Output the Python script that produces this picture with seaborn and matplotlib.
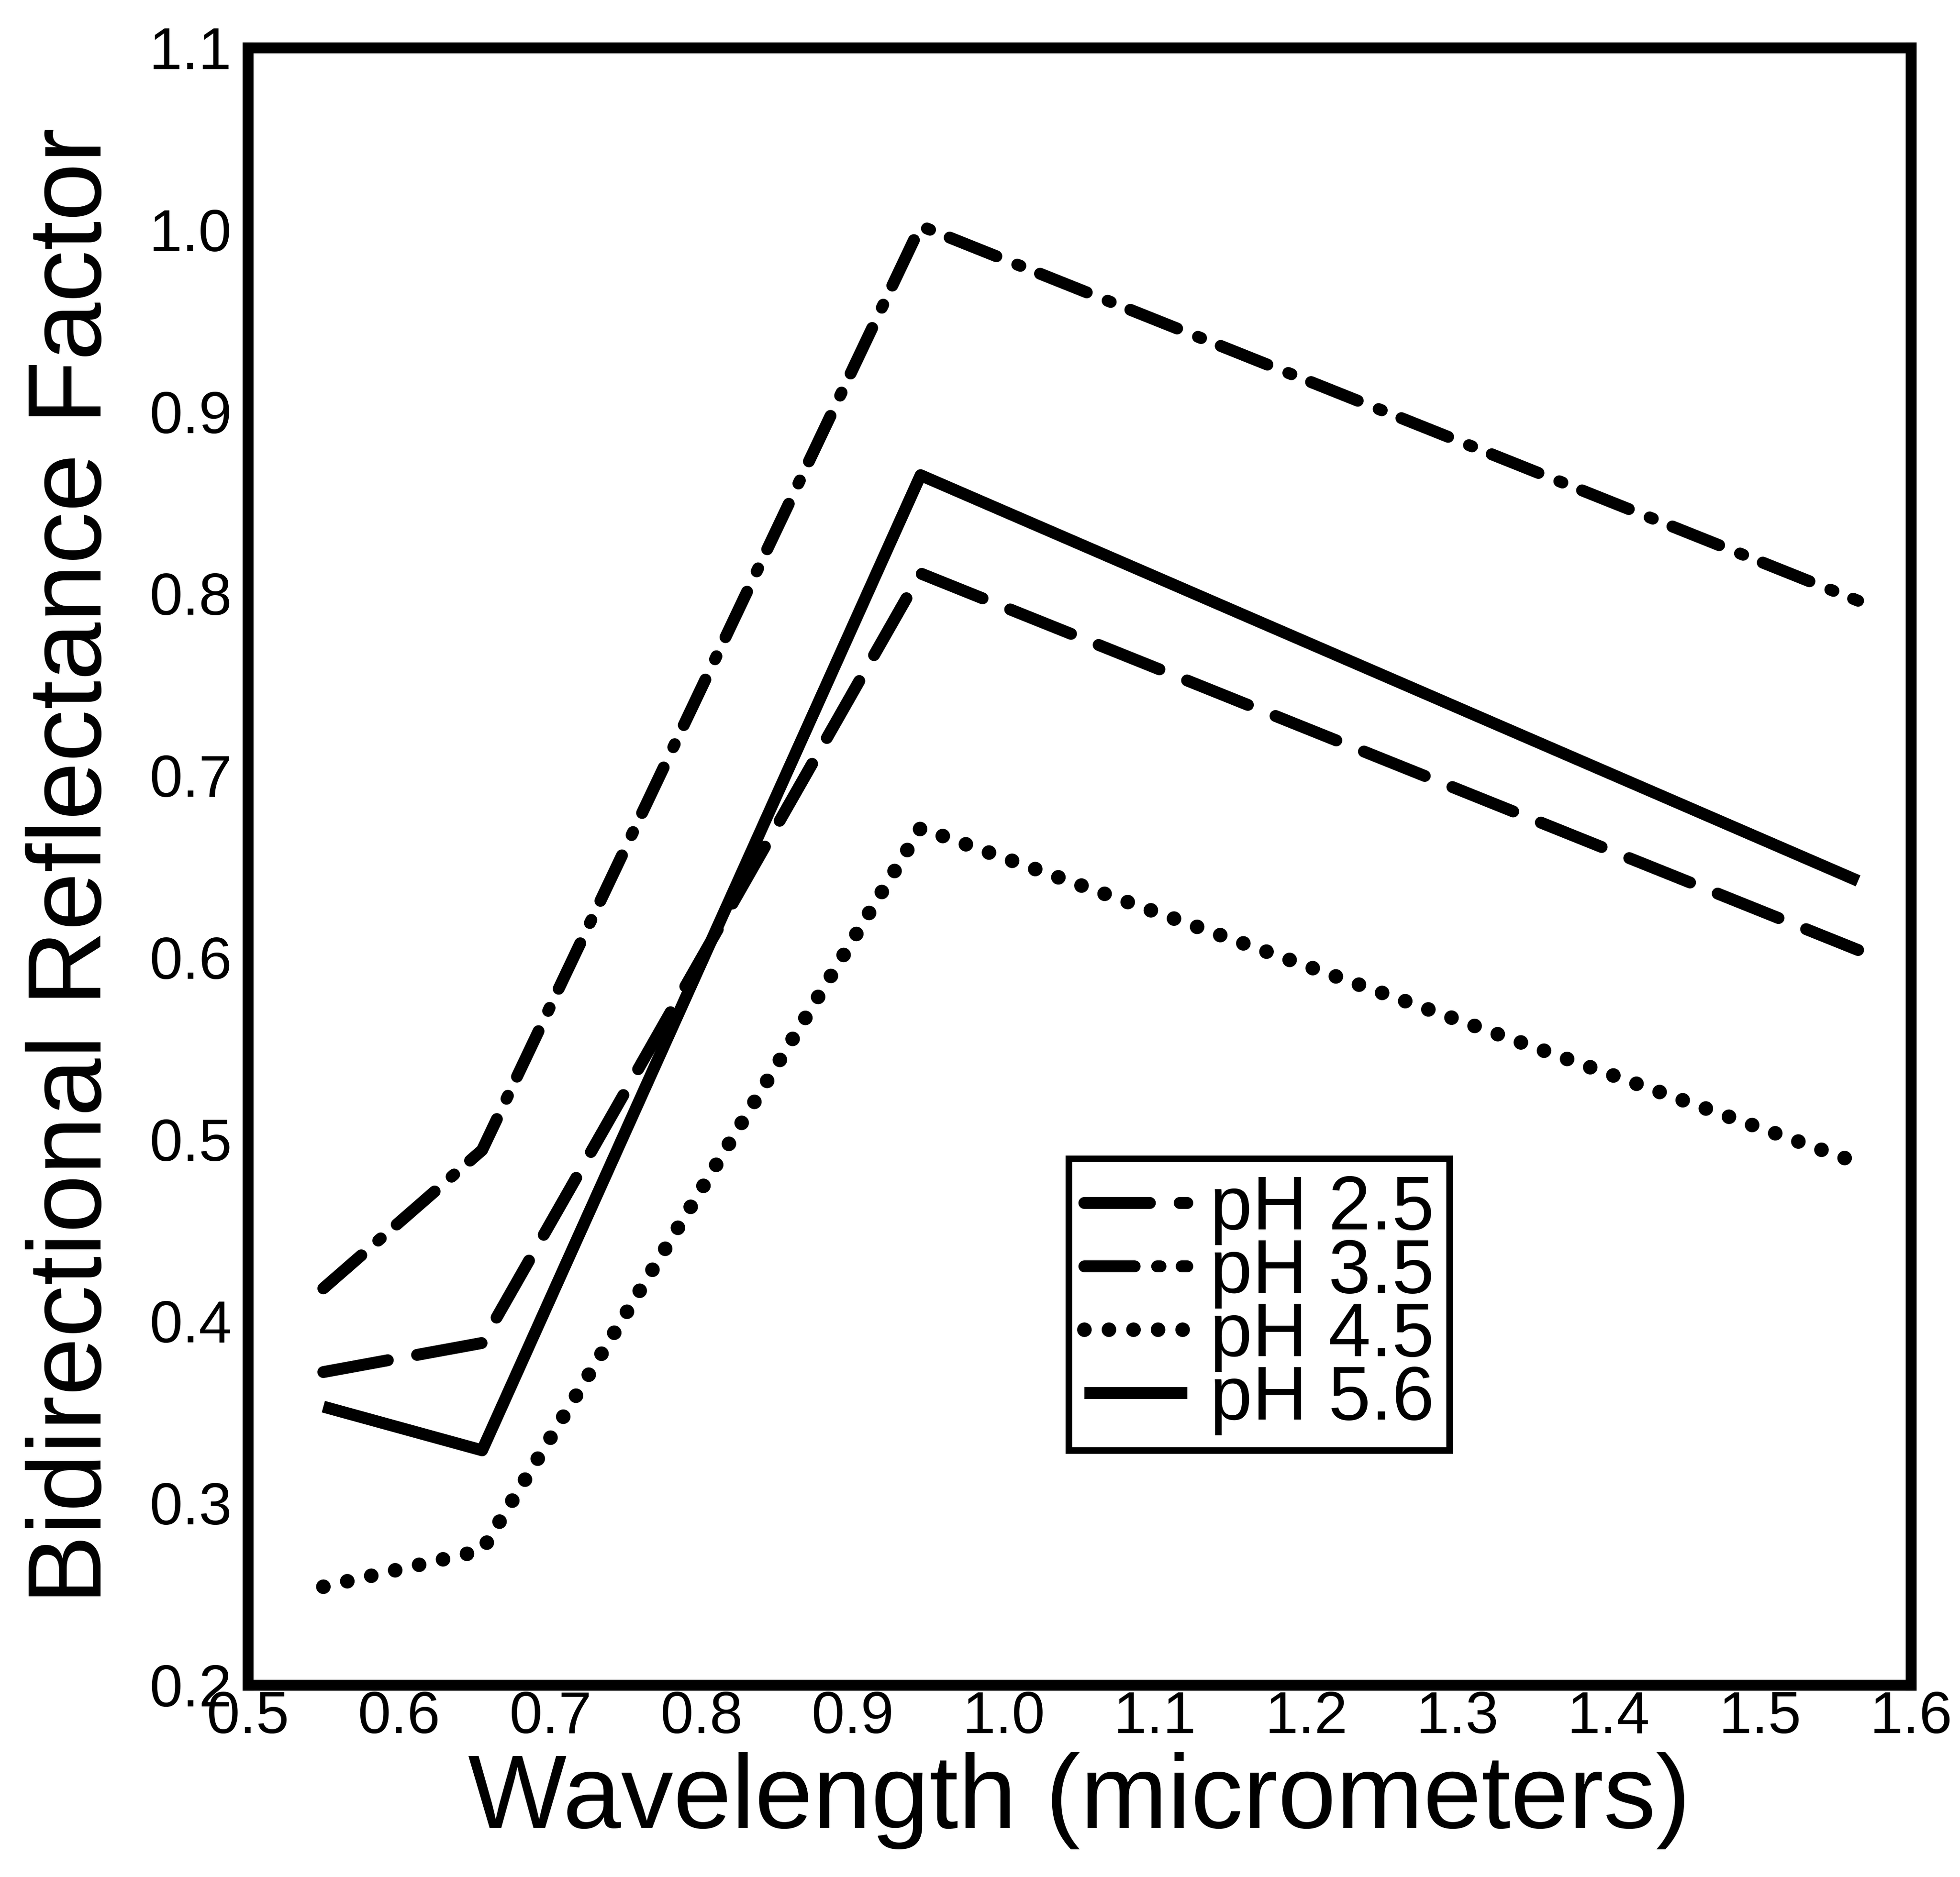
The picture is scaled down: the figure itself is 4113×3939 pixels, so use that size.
import matplotlib
matplotlib.use("Agg")
import matplotlib.pyplot as plt
import seaborn as sns
import pandas as pd

# Wavelength band centres (micrometers)
wavelength = [0.55, 0.655, 0.945, 1.565]

# Bidirectional reflectance factor for each rain pH treatment
ph_labels = ["pH 2.5", "pH 3.5", "pH 4.5", "pH 5.6"]
brf_ph25 = [0.372, 0.388, 0.811, 0.604]
brf_ph35 = [0.418, 0.494, 1.002, 0.796]
brf_ph45 = [0.254, 0.274, 0.671, 0.487]
brf_ph56 = [0.353, 0.329, 0.865, 0.642]

x_ticks = [0.5, 0.6, 0.7, 0.8, 0.9, 1.0, 1.1, 1.2, 1.3, 1.4, 1.5, 1.6]
y_ticks = [0.2, 0.3, 0.4, 0.5, 0.6, 0.7, 0.8, 0.9, 1.0, 1.1]

sns.set_theme(style="white")
plt.rcParams["font.family"] = ["Liberation Sans", "DejaVu Sans"]
plt.rcParams["lines.scale_dashes"] = False
plt.rcParams["text.color"] = "black"

fig = plt.figure(figsize=(41.13, 39.39), dpi=100)
ax = fig.add_axes([0.1264, 0.1023, 0.8486, 0.8723])

series = {
    "pH 2.5": (brf_ph25, dict(linestyle=(0, (99, 45)), linewidth=18,
                              dash_capstyle="round")),
    "pH 3.5": (brf_ph35, dict(linestyle=(0, (76, 34, 5, 32)), linewidth=18,
                              dash_capstyle="round")),
    "pH 4.5": (brf_ph45, dict(linestyle=(0, (0.1, 37)), linewidth=22,
                              dash_capstyle="round")),
    "pH 5.6": (brf_ph56, dict(linestyle="-", linewidth=18,
                              solid_capstyle="butt")),
}

for name in ph_labels:
    values, style = series[name]
    df = pd.DataFrame({"wavelength": wavelength, "brf": values})
    sns.lineplot(data=df, x="wavelength", y="brf", ax=ax, color="black",
                 label=name, legend=False, **style)

ax.set_xlim(0.5, 1.6)
ax.set_ylim(0.2, 1.1)
ax.set_xticks(x_ticks)
ax.set_yticks(y_ticks)
ax.set_xticklabels([f"{v:.1f}" for v in x_ticks])
ax.set_yticklabels([f"{v:.1f}" for v in y_ticks])
ax.tick_params(axis="both", length=0, labelsize=90, colors="black")
ax.tick_params(axis="x", pad=8)
ax.tick_params(axis="y", pad=24)

for spine in ax.spines.values():
    spine.set_visible(True)
    spine.set_color("black")
    spine.set_linewidth(16.5)

ax.set_xlabel("Wavelength (micrometers)", fontsize=158, labelpad=10, color="black")
ax.set_ylabel("Bidirectional Reflectance Factor", fontsize=158, labelpad=40, color="black")

leg = ax.legend(loc="upper left", bbox_to_anchor=(0.5454, 0.3826),
                bbox_transform=fig.transFigure, borderaxespad=0,
                fontsize=115, frameon=True, fancybox=False,
                handlelength=1.35, handletextpad=0.3, labelspacing=-0.1,
                borderpad=0.2, labelcolor="black")
frame = leg.get_frame()
frame.set_edgecolor("black")
frame.set_linewidth(10)
frame.set_alpha(1)

fig.savefig("out.png", dpi=100, facecolor="white")
